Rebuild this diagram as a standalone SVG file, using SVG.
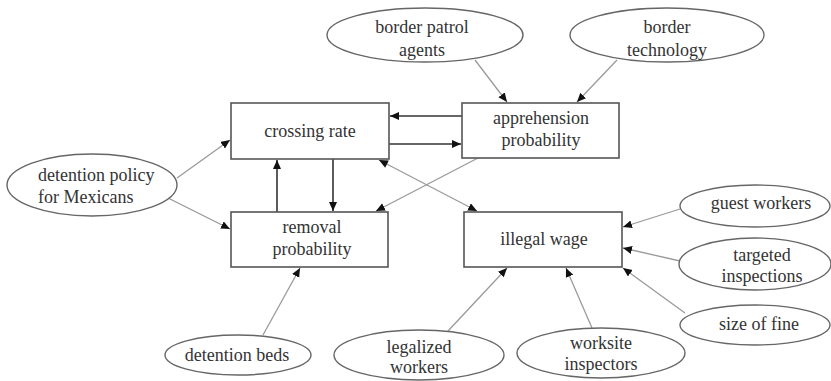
<svg xmlns="http://www.w3.org/2000/svg" width="831" height="381" viewBox="0 0 831 381">
<style>
.box{fill:#fff;stroke:#555;stroke-width:1.6}
.ell{fill:#fff;stroke:#666;stroke-width:1.4}
.dark{stroke:#333;stroke-width:1.6;fill:none;marker-end:url(#ah)}
.gray{stroke:#9a9a9a;stroke-width:1.3;fill:none;marker-end:url(#ah)}
</style>
<defs>
<marker id="ah" markerUnits="userSpaceOnUse" markerWidth="10" markerHeight="10" refX="9" refY="4" orient="auto">
<path d="M0,0 L9,4 L0,8 z" fill="#111"/>
</marker>
<marker id="ahs" markerUnits="userSpaceOnUse" markerWidth="10" markerHeight="10" refX="0" refY="4" orient="auto">
<path d="M9,0 L0,4 L9,8 z" fill="#111"/>
</marker>
</defs>
<rect width="831" height="381" fill="#fff"/>
<g id="connectors">
<line class="dark" x1="462" y1="116" x2="390" y2="116"/>
<line class="dark" x1="389" y1="144" x2="461" y2="144"/>
<line class="dark" x1="277" y1="212" x2="277" y2="160"/>
<line class="dark" x1="333" y1="159" x2="333" y2="211"/>
<line class="gray" x1="478" y1="158" x2="376" y2="211"/>
<line class="gray" x1="379" y1="160" x2="477" y2="211" style="marker-start:url(#ahs)"/>
<line class="gray" x1="177" y1="178" x2="230" y2="140"/>
<line class="gray" x1="168" y1="198" x2="230" y2="229"/>
<line class="gray" x1="475" y1="60" x2="507" y2="102"/>
<line class="gray" x1="617" y1="60" x2="577" y2="102"/>
<line class="gray" x1="680" y1="209" x2="623" y2="227"/>
<line class="gray" x1="680" y1="261" x2="623" y2="248"/>
<line class="gray" x1="685" y1="313" x2="623" y2="268"/>
<line class="gray" x1="263" y1="335" x2="300" y2="268"/>
<line class="gray" x1="448" y1="331" x2="507" y2="268"/>
<line class="gray" x1="592" y1="328" x2="566" y2="268"/>
</g>
<g font-family="Liberation Serif, serif" font-size="18" fill="#333" text-anchor="middle">
<g id="crossing-rate"><rect class="box" x="231" y="103" width="158" height="56"/><text x="310" y="137">crossing rate</text></g>
<g id="apprehension-probability"><rect class="box" x="462" y="103" width="157" height="55"/><text x="541" y="124">apprehension</text><text x="541" y="146">probability</text></g>
<g id="removal-probability"><rect class="box" x="231" y="212" width="157" height="55"/><text x="312" y="233">removal</text><text x="312" y="255">probability</text></g>
<g id="illegal-wage"><rect class="box" x="464" y="212" width="158" height="55"/><text x="544" y="245">illegal wage</text></g>
<g id="detention-policy"><ellipse class="ell" cx="92" cy="185" rx="85" ry="31"/><text x="38" y="181" text-anchor="start">detention policy</text><text x="38" y="203" text-anchor="start">for Mexicans</text></g>
<g id="border-patrol-agents"><ellipse class="ell" cx="425" cy="35" rx="98" ry="27"/><text x="422" y="33">border patrol</text><text x="422" y="56">agents</text></g>
<g id="border-technology"><ellipse class="ell" cx="667" cy="35" rx="97" ry="27"/><text x="667" y="33">border</text><text x="667" y="56">technology</text></g>
<g id="guest-workers"><ellipse class="ell" cx="755" cy="206" rx="75" ry="21"/><text x="761" y="209">guest workers</text></g>
<g id="targeted-inspections"><ellipse class="ell" cx="755" cy="264" rx="76" ry="26"/><text x="762" y="261">targeted</text><text x="762" y="282">inspections</text></g>
<g id="size-of-fine"><ellipse class="ell" cx="755" cy="325" rx="75" ry="20"/><text x="759" y="330">size of fine</text></g>
<g id="detention-beds"><ellipse class="ell" cx="238" cy="355" rx="73" ry="20"/><text x="237" y="361">detention beds</text></g>
<g id="legalized-workers"><ellipse class="ell" cx="419" cy="355" rx="85" ry="25"/><text x="419" y="353">legalized</text><text x="419" y="373">workers</text></g>
<g id="worksite-inspectors"><ellipse class="ell" cx="601" cy="353" rx="84" ry="25"/><text x="601" y="349">worksite</text><text x="601" y="370">inspectors</text></g>
</g>
</svg>
